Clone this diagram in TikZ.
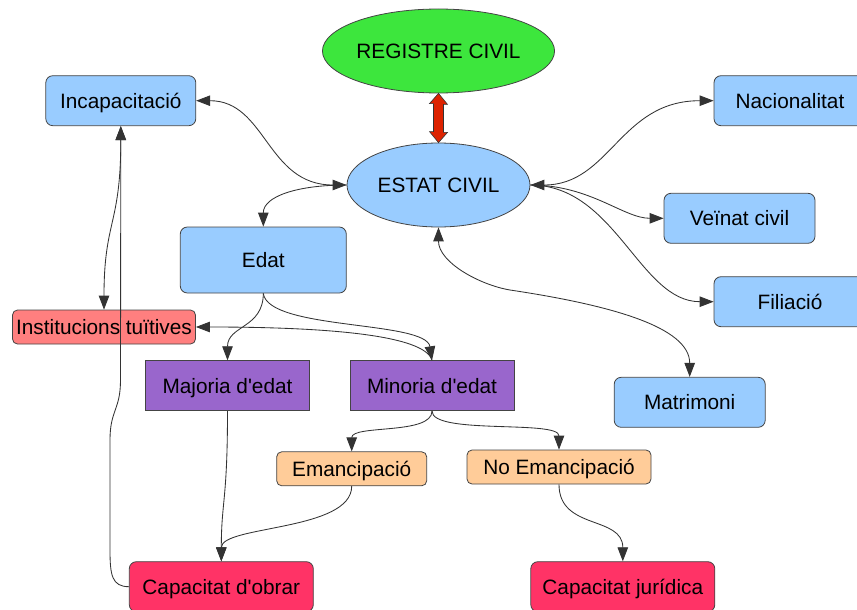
\documentclass[tikz,border=0pt]{standalone}
\usepackage{fontspec}
\setmainfont{Liberation Sans}
\usetikzlibrary{shapes.geometric,arrows.meta}
\definecolor{cgreen}{HTML}{3DE63D}
\definecolor{cblue}{HTML}{99CCFF}
\definecolor{csalmon}{HTML}{FF7F7F}
\definecolor{cpurple}{HTML}{9966CC}
\definecolor{corange}{HTML}{FFCC99}
\definecolor{cpink}{HTML}{FF3366}
\definecolor{cred}{HTML}{DD2200}
\definecolor{cborder}{HTML}{444444}
\definecolor{cline}{HTML}{333333}
\begin{document}
\begin{tikzpicture}[x=1pt,y=-1pt,
  >={Triangle[length=14pt,width=10.5pt]},
  every node/.style={font=\fontsize{20.8}{24}\selectfont, text height=14.9pt, text depth=0pt, inner sep=0pt},
  cbox/.style={draw=cborder, line width=0.8pt, rounded corners=7pt, minimum height=50pt},
  rbox/.style={draw=cborder, line width=0.8pt, minimum height=50pt},
  cell/.style={ellipse, draw=cborder, line width=0.8pt},
  conn/.style={draw=cline, line width=0.85pt}]
\useasboundingbox (0,0) rectangle (857,610);

% nodes
\node[cell, fill=cgreen, minimum width=217pt, minimum height=84pt] (rc) at (438.5,51) {REGISTRE CIVIL};
\node[cell, fill=cblue, minimum width=183pt, minimum height=84pt] (ec) at (438.5,185) {ESTAT CIVIL};
\node[cbox, fill=cblue, minimum width=150pt] (inc) at (120.8,100.7) {Incapacitació};
\node[cbox, fill=cblue, minimum width=166pt, minimum height=66pt] (edat) at (263.3,260) {Edat};
\node[cbox, fill=csalmon, minimum width=183pt, minimum height=34pt, rounded corners=5pt] (inst) at (104,327) {Institucions tuïtives};
\node[rbox, fill=cpurple, minimum width=164pt] (maj) at (227.5,385.7) {Majoria d\textquotesingle edat};
\node[rbox, fill=cpurple, minimum width=164pt] (min) at (432,385.7) {Minoria d\textquotesingle edat};
\node[cbox, fill=corange, minimum width=150pt, minimum height=34pt, rounded corners=5pt] (ema) at (351.7,468.8) {Emancipació};
\node[cbox, fill=corange, minimum width=184pt, minimum height=34pt, rounded corners=5pt] (noe) at (559,467) {No Emancipació};
\node[cbox, fill=cpink, minimum width=184pt] (cob) at (221.3,586.7) {Capacitat d\textquotesingle obrar};
\node[cbox, fill=cpink, minimum width=184pt] (cju) at (622.8,586.7) {Capacitat jurídica};
\node[cbox, fill=cblue, minimum width=152pt] (nac) at (790,100.7) {Nacionalitat};
\node[cbox, fill=cblue, minimum width=151pt] (vei) at (739.5,218.3) {Veïnat civil};
\node[cbox, fill=cblue, minimum width=152pt] (fil) at (790,301.7) {Filiació};
\node[cbox, fill=cblue, minimum width=151pt] (mat) at (689.7,402.3) {Matrimoni};

% red double arrow
\filldraw[fill=cred, draw=black!80, line width=0.6pt]
  (rc.south) -- ++(9,11) -- ++(-4,0) -- ++(0,28) -- ++(4,0) -- (ec.north)
  -- ++(-9,-11) -- ++(4,0) -- ++(0,-28) -- ++(-4,0) -- cycle;

% connectors
\draw[conn,<->] (inc.east) .. controls +(70,0) and +(-80,0) .. (ec.west);
\draw[conn,->] (ec.west) .. controls +(-50,0) and +(0,-30) .. (edat.north);
\draw[conn,<->] (ec.east) .. controls +(80,0) and +(-94,0) .. (nac.west);
\draw[conn,->] (ec.east) .. controls +(60,0) and +(-40,0) .. (vei.west);
\draw[conn,->] (ec.east) .. controls +(85,0) and +(-74,0) .. (fil.west);
\coordinate (mtmid) at (510,290);
\draw[conn,<->] (ec.south) .. controls +(0,35) and +(-30,-5) .. (mtmid)
  .. controls +(100,15) and +(0,-50) .. (mat.north);

\draw[conn,->] (edat.south) .. controls +(0,35) and +(0,-35) .. (maj.north);
\draw[conn,->] (edat.south) .. controls +(5,37) and +(-6,-40) .. (min.north);
\draw[conn,->] (min.north) .. controls +(-7,-25) and +(133,0) .. (inst.east);
\draw[conn,<->] (inc.south) .. controls +(0,100) and +(0,-90) .. (inst.north);

\coordinate (cb1) at (110,550);
\coordinate (cb2) at (110,440);
\coordinate (cb3) at (120.5,380);
\draw[conn,->] (cob.west) .. controls +(-17,0) and +(0,25) .. (cb1) -- (cb2)
  .. controls +(0,-30) and +(0,30) .. (cb3) -- (inc.south);

\draw[conn,->] (maj.south) .. controls +(0,90) and +(0,-60) .. (cob.north);
\draw[conn,->] (ema.south) .. controls +(0,45) and +(0,-36) .. (cob.north);
\draw[conn,->] (min.south) .. controls +(0,24) and +(0,-27) .. (ema.north);
\draw[conn,->] (min.south) .. controls +(0,24) and +(0,-30) .. (noe.north);
\draw[conn,->] (noe.south) .. controls +(0,46) and +(0,-46) .. (cju.north);
\end{tikzpicture}
\end{document}
